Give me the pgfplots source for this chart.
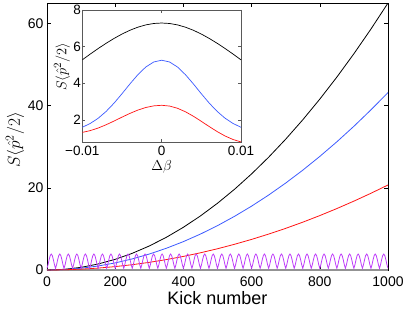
\documentclass[border=0pt]{standalone}
\usepackage{pgfplots}
\pgfplotsset{compat=1.18}
\usepackage{fontspec}
\setmainfont{Liberation Sans}
\definecolor{mblue}{RGB}{60,90,255}
\definecolor{mred}{RGB}{255,20,20}
\definecolor{mviolet}{RGB}{190,60,250}
\begin{document}
\begin{tikzpicture}
\path[use as bounding box] (-47pt,-39pt) rectangle (362pt,270pt);
\begin{axis}[
  at={(0pt,0pt)}, anchor=south west,
  scale only axis, width=341pt, height=267pt,
  xmin=0, xmax=1000, ymin=0, ymax=65,
  xtick={0,200,...,1000}, ytick={0,20,40,60},
  tick align=inside, major tick length=4pt,
  tick style={black, line width=0.5pt},
  axis line style={black, line width=0.6pt},
  /pgf/number format/assume math mode=true,
  /pgf/number format/1000 sep={},
  ticklabel style={font=\fontsize{14}{16}\selectfont},
  xticklabel style={yshift=-3pt},
  xlabel={Kick number},
  xlabel style={font=\fontsize{18}{20}\selectfont, at={(axis description cs:0.5,0)}, anchor=base, yshift=-34pt},
  ylabel={$S\langle\hat{p}^2/2\rangle$},
  ylabel style={font=\fontsize{18}{20}\selectfont, at={(axis description cs:-0.094,0.487)}, anchor=center},
  clip=true,
]
\addplot[gray!85, line width=1.4pt] coordinates {(0,0)(1000,0)};
\addplot[black, line width=0.8pt] coordinates {
(0,0)(50,0.1625)(100,0.65)(150,1.4625)(200,2.6)(250,4.0625)(300,5.85)(350,7.9625)(400,10.4)(450,13.1625)(500,16.25)(550,19.66)(600,23.4)(650,27.46)(700,31.85)(750,36.56)(800,41.6)(850,46.96)(900,52.65)(950,58.66)(1000,65)};
\addplot[mblue, line width=0.8pt] coordinates {
(0,0)(50,0.108)(100,0.432)(150,0.972)(200,1.728)(250,2.7)(300,3.888)(350,5.292)(400,6.912)(450,8.748)(500,10.8)(550,13.07)(600,15.55)(650,18.25)(700,21.17)(750,24.3)(800,27.65)(850,31.21)(900,34.99)(950,38.99)(1000,43.2)};
\addplot[mred, line width=0.8pt] coordinates {
(0,0)(50,0.052)(100,0.207)(150,0.466)(200,0.828)(250,1.294)(300,1.863)(350,2.536)(400,3.312)(450,4.192)(500,5.175)(550,6.262)(600,7.452)(650,8.746)(700,10.14)(750,11.64)(800,13.25)(850,14.96)(900,16.77)(950,18.68)(1000,20.7)};
\addplot[mviolet, line width=0.8pt] coordinates {
(0,0.4)(3.125,1.3)(6.25,2.5)(9.375,3.5)(12.5,3.9)(15.625,3.5)(18.75,2.5)(21.875,1.3)
(25,0.4)(28.125,1.3)(31.25,2.5)(34.375,3.5)(37.5,3.9)(40.625,3.5)(43.75,2.5)(46.875,1.3)
(50,0.4)(53.125,1.3)(56.25,2.5)(59.375,3.5)(62.5,3.9)(65.625,3.5)(68.75,2.5)(71.875,1.3)
(75,0.4)(78.125,1.3)(81.25,2.5)(84.375,3.5)(87.5,3.9)(90.625,3.5)(93.75,2.5)(96.875,1.3)
(100,0.4)(103.125,1.3)(106.25,2.5)(109.375,3.5)(112.5,3.9)(115.625,3.5)(118.75,2.5)(121.875,1.3)
(125,0.4)(128.125,1.3)(131.25,2.5)(134.375,3.5)(137.5,3.9)(140.625,3.5)(143.75,2.5)(146.875,1.3)
(150,0.4)(153.125,1.3)(156.25,2.5)(159.375,3.5)(162.5,3.9)(165.625,3.5)(168.75,2.5)(171.875,1.3)
(175,0.4)(178.125,1.3)(181.25,2.5)(184.375,3.5)(187.5,3.9)(190.625,3.5)(193.75,2.5)(196.875,1.3)
(200,0.4)(203.125,1.3)(206.25,2.5)(209.375,3.5)(212.5,3.9)(215.625,3.5)(218.75,2.5)(221.875,1.3)
(225,0.4)(228.125,1.3)(231.25,2.5)(234.375,3.5)(237.5,3.9)(240.625,3.5)(243.75,2.5)(246.875,1.3)
(250,0.4)(253.125,1.3)(256.25,2.5)(259.375,3.5)(262.5,3.9)(265.625,3.5)(268.75,2.5)(271.875,1.3)
(275,0.4)(278.125,1.3)(281.25,2.5)(284.375,3.5)(287.5,3.9)(290.625,3.5)(293.75,2.5)(296.875,1.3)
(300,0.4)(303.125,1.3)(306.25,2.5)(309.375,3.5)(312.5,3.9)(315.625,3.5)(318.75,2.5)(321.875,1.3)
(325,0.4)(328.125,1.3)(331.25,2.5)(334.375,3.5)(337.5,3.9)(340.625,3.5)(343.75,2.5)(346.875,1.3)
(350,0.4)(353.125,1.3)(356.25,2.5)(359.375,3.5)(362.5,3.9)(365.625,3.5)(368.75,2.5)(371.875,1.3)
(375,0.4)(378.125,1.3)(381.25,2.5)(384.375,3.5)(387.5,3.9)(390.625,3.5)(393.75,2.5)(396.875,1.3)
(400,0.4)(403.125,1.3)(406.25,2.5)(409.375,3.5)(412.5,3.9)(415.625,3.5)(418.75,2.5)(421.875,1.3)
(425,0.4)(428.125,1.3)(431.25,2.5)(434.375,3.5)(437.5,3.9)(440.625,3.5)(443.75,2.5)(446.875,1.3)
(450,0.4)(453.125,1.3)(456.25,2.5)(459.375,3.5)(462.5,3.9)(465.625,3.5)(468.75,2.5)(471.875,1.3)
(475,0.4)(478.125,1.3)(481.25,2.5)(484.375,3.5)(487.5,3.9)(490.625,3.5)(493.75,2.5)(496.875,1.3)
(500,0.4)(503.125,1.3)(506.25,2.5)(509.375,3.5)(512.5,3.9)(515.625,3.5)(518.75,2.5)(521.875,1.3)
(525,0.4)(528.125,1.3)(531.25,2.5)(534.375,3.5)(537.5,3.9)(540.625,3.5)(543.75,2.5)(546.875,1.3)
(550,0.4)(553.125,1.3)(556.25,2.5)(559.375,3.5)(562.5,3.9)(565.625,3.5)(568.75,2.5)(571.875,1.3)
(575,0.4)(578.125,1.3)(581.25,2.5)(584.375,3.5)(587.5,3.9)(590.625,3.5)(593.75,2.5)(596.875,1.3)
(600,0.4)(603.125,1.3)(606.25,2.5)(609.375,3.5)(612.5,3.9)(615.625,3.5)(618.75,2.5)(621.875,1.3)
(625,0.4)(628.125,1.3)(631.25,2.5)(634.375,3.5)(637.5,3.9)(640.625,3.5)(643.75,2.5)(646.875,1.3)
(650,0.4)(653.125,1.3)(656.25,2.5)(659.375,3.5)(662.5,3.9)(665.625,3.5)(668.75,2.5)(671.875,1.3)
(675,0.4)(678.125,1.3)(681.25,2.5)(684.375,3.5)(687.5,3.9)(690.625,3.5)(693.75,2.5)(696.875,1.3)
(700,0.4)(703.125,1.3)(706.25,2.5)(709.375,3.5)(712.5,3.9)(715.625,3.5)(718.75,2.5)(721.875,1.3)
(725,0.4)(728.125,1.3)(731.25,2.5)(734.375,3.5)(737.5,3.9)(740.625,3.5)(743.75,2.5)(746.875,1.3)
(750,0.4)(753.125,1.3)(756.25,2.5)(759.375,3.5)(762.5,3.9)(765.625,3.5)(768.75,2.5)(771.875,1.3)
(775,0.4)(778.125,1.3)(781.25,2.5)(784.375,3.5)(787.5,3.9)(790.625,3.5)(793.75,2.5)(796.875,1.3)
(800,0.4)(803.125,1.3)(806.25,2.5)(809.375,3.5)(812.5,3.9)(815.625,3.5)(818.75,2.5)(821.875,1.3)
(825,0.4)(828.125,1.3)(831.25,2.5)(834.375,3.5)(837.5,3.9)(840.625,3.5)(843.75,2.5)(846.875,1.3)
(850,0.4)(853.125,1.3)(856.25,2.5)(859.375,3.5)(862.5,3.9)(865.625,3.5)(868.75,2.5)(871.875,1.3)
(875,0.4)(878.125,1.3)(881.25,2.5)(884.375,3.5)(887.5,3.9)(890.625,3.5)(893.75,2.5)(896.875,1.3)
(900,0.4)(903.125,1.3)(906.25,2.5)(909.375,3.5)(912.5,3.9)(915.625,3.5)(918.75,2.5)(921.875,1.3)
(925,0.4)(928.125,1.3)(931.25,2.5)(934.375,3.5)(937.5,3.9)(940.625,3.5)(943.75,2.5)(946.875,1.3)
(950,0.4)(953.125,1.3)(956.25,2.5)(959.375,3.5)(962.5,3.9)(965.625,3.5)(968.75,2.5)(971.875,1.3)
(975,0.4)(978.125,1.3)(981.25,2.5)(984.375,3.5)(987.5,3.9)(990.625,3.5)(993.75,2.5)(996.875,1.3)
(1000,0.4)};
\end{axis}
\begin{axis}[
  at={(35.3pt,127.7pt)}, anchor=south west,
  scale only axis, width=158.7pt, height=132.3pt,
  xmin=-0.01, xmax=0.01, ymin=0.78, ymax=8,
  xtick={-0.01,0,0.01}, xticklabels={−0.01,0,0.01},
  scaled x ticks=false,
  ytick={2,4,6,8},
  tick align=inside, major tick length=3pt,
  tick style={gray!70!black, line width=0.5pt},
  axis line style={gray!70!black, line width=0.8pt},
  axis background/.style={fill=white},
  /pgf/number format/assume math mode=true,
  ticklabel style={font=\fontsize{13.5}{15}\selectfont},
  yticklabel style={xshift=2pt},
  xlabel={$\Delta\beta$},
  xlabel style={font=\fontsize{15}{17}\selectfont, at={(axis description cs:0.5,0)}, anchor=center, yshift=-25pt},
  ylabel={$S\langle\hat{p}^2/2\rangle$},
  ylabel style={font=\fontsize{15}{17}\selectfont, at={(axis description cs:-0.128,0.57)}, anchor=center},
]
\addplot[black, line width=0.7pt] coordinates {
(-0.01,5.28)(-0.009,5.595)(-0.008,5.897)(-0.007,6.183)(-0.006,6.448)(-0.005,6.687)(-0.004,6.894)(-0.003,7.062)(-0.002,7.187)(-0.001,7.264)(0,7.29)
(0.001,7.264)(0.002,7.187)(0.003,7.062)(0.004,6.894)(0.005,6.687)(0.006,6.448)(0.007,6.183)(0.008,5.897)(0.009,5.595)(0.01,5.28)};
\addplot[mblue, line width=0.7pt] coordinates {
(-0.01,1.60)(-0.009,1.807)(-0.008,2.092)(-0.007,2.464)(-0.006,2.917)(-0.005,3.43)(-0.004,3.965)(-0.003,4.47)(-0.002,4.888)(-0.001,5.163)(0,5.26)
(0.001,5.163)(0.002,4.888)(0.003,4.47)(0.004,3.965)(0.005,3.43)(0.006,2.917)(0.007,2.464)(0.008,2.092)(0.009,1.807)(0.01,1.60)};
\addplot[mred, line width=0.7pt] coordinates {
(-0.01,1.32)(-0.009,1.418)(-0.008,1.559)(-0.007,1.737)(-0.006,1.94)(-0.005,2.153)(-0.004,2.357)(-0.003,2.538)(-0.002,2.679)(-0.001,2.769)(0,2.8)
(0.001,2.758)(0.002,2.637)(0.003,2.446)(0.004,2.202)(0.005,1.925)(0.006,1.638)(0.007,1.364)(0.008,1.123)(0.009,0.932)(0.01,0.80)};
\end{axis}
\end{tikzpicture}
\end{document}
